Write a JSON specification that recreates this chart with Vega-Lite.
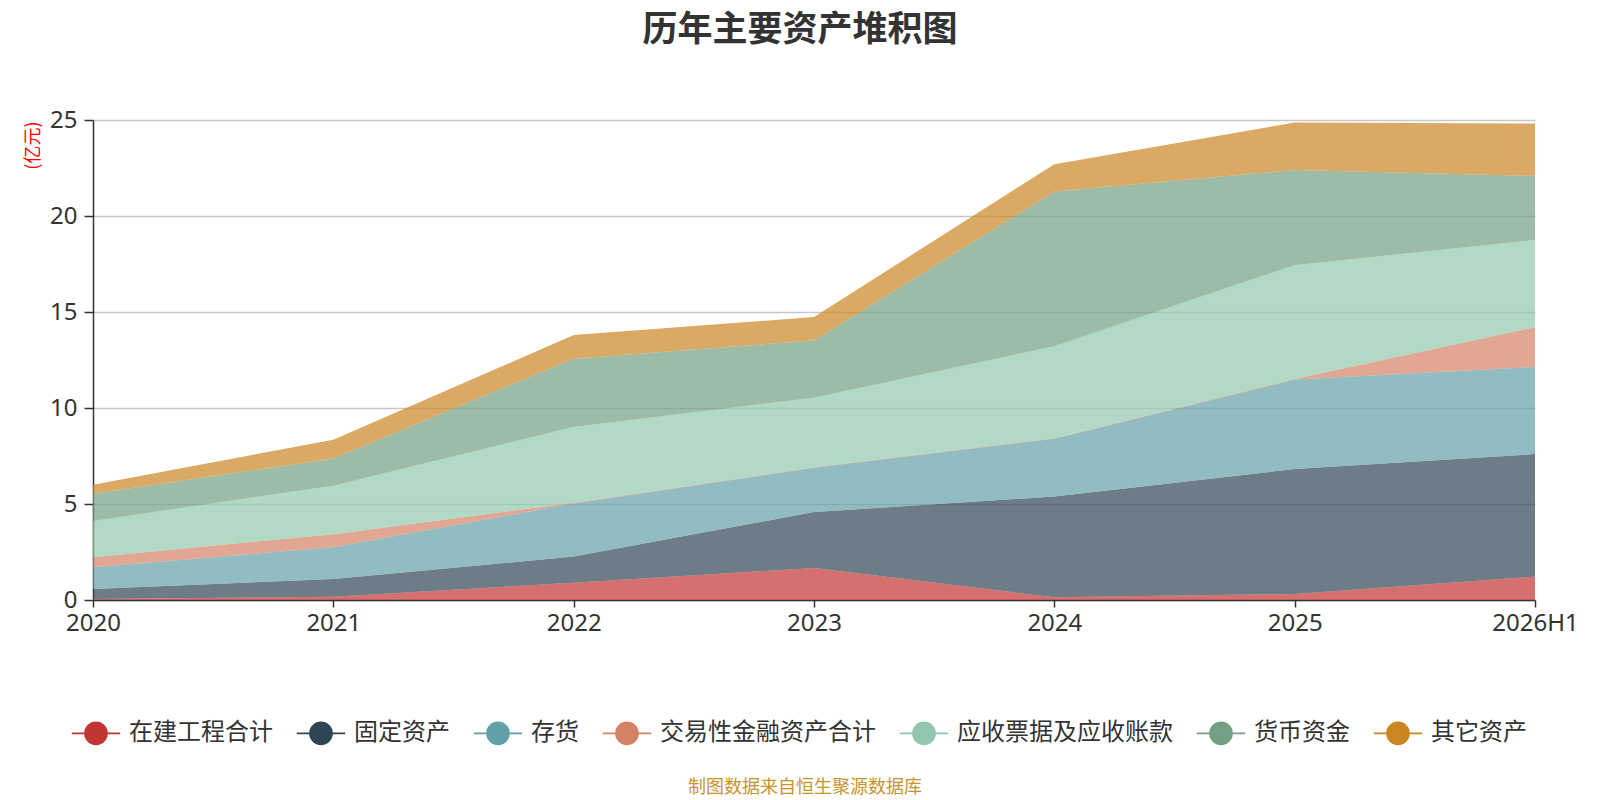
{
  "$schema": "https://vega.github.io/schema/vega-lite/v6.json",
  "autosize": "none",
  "width": 1442,
  "height": 480,
  "padding": {"left": 93, "top": 120, "right": 65, "bottom": 200},
  "background": "white",
  "title": {
    "text": "历年主要资产堆积图",
    "font": "Noto Sans CJK SC",
    "fontSize": 35,
    "fontWeight": "bold",
    "color": "#333333",
    "anchor": "middle",
    "dx": -14,
    "offset": 60
  },
  "data": {
    "values": [
      {"year": "2020", "item": "在建工程合计", "value": 0.05},
      {"year": "2021", "item": "在建工程合计", "value": 0.17},
      {"year": "2022", "item": "在建工程合计", "value": 0.90},
      {"year": "2023", "item": "在建工程合计", "value": 1.67},
      {"year": "2024", "item": "在建工程合计", "value": 0.14},
      {"year": "2025", "item": "在建工程合计", "value": 0.31},
      {"year": "2026H1", "item": "在建工程合计", "value": 1.22},
      {"year": "2020", "item": "固定资产", "value": 0.52},
      {"year": "2021", "item": "固定资产", "value": 0.93},
      {"year": "2022", "item": "固定资产", "value": 1.36},
      {"year": "2023", "item": "固定资产", "value": 2.91},
      {"year": "2024", "item": "固定资产", "value": 5.25},
      {"year": "2025", "item": "固定资产", "value": 6.51},
      {"year": "2026H1", "item": "固定资产", "value": 6.38},
      {"year": "2020", "item": "存货", "value": 1.13},
      {"year": "2021", "item": "存货", "value": 1.65},
      {"year": "2022", "item": "存货", "value": 2.77},
      {"year": "2023", "item": "存货", "value": 2.31},
      {"year": "2024", "item": "存货", "value": 3.01},
      {"year": "2025", "item": "存货", "value": 4.66},
      {"year": "2026H1", "item": "存货", "value": 4.54},
      {"year": "2020", "item": "交易性金融资产合计", "value": 0.53},
      {"year": "2021", "item": "交易性金融资产合计", "value": 0.68},
      {"year": "2022", "item": "交易性金融资产合计", "value": 0.04},
      {"year": "2023", "item": "交易性金融资产合计", "value": 0.02},
      {"year": "2024", "item": "交易性金融资产合计", "value": 0.03},
      {"year": "2025", "item": "交易性金融资产合计", "value": 0.03},
      {"year": "2026H1", "item": "交易性金融资产合计", "value": 2.07},
      {"year": "2020", "item": "应收票据及应收账款", "value": 1.89},
      {"year": "2021", "item": "应收票据及应收账款", "value": 2.52},
      {"year": "2022", "item": "应收票据及应收账款", "value": 3.94},
      {"year": "2023", "item": "应收票据及应收账款", "value": 3.63},
      {"year": "2024", "item": "应收票据及应收账款", "value": 4.79},
      {"year": "2025", "item": "应收票据及应收账款", "value": 5.93},
      {"year": "2026H1", "item": "应收票据及应收账款", "value": 4.54},
      {"year": "2020", "item": "货币资金", "value": 1.41},
      {"year": "2021", "item": "货币资金", "value": 1.42},
      {"year": "2022", "item": "货币资金", "value": 3.56},
      {"year": "2023", "item": "货币资金", "value": 2.98},
      {"year": "2024", "item": "货币资金", "value": 8.05},
      {"year": "2025", "item": "货币资金", "value": 4.96},
      {"year": "2026H1", "item": "货币资金", "value": 3.34},
      {"year": "2020", "item": "其它资产", "value": 0.47},
      {"year": "2021", "item": "其它资产", "value": 0.98},
      {"year": "2022", "item": "其它资产", "value": 1.23},
      {"year": "2023", "item": "其它资产", "value": 1.22},
      {"year": "2024", "item": "其它资产", "value": 1.43},
      {"year": "2025", "item": "其它资产", "value": 2.47},
      {"year": "2026H1", "item": "其它资产", "value": 2.73}
    ]
  },
  "transform": [
    {"calculate": "indexof(['在建工程合计','固定资产','存货','交易性金融资产合计','应收票据及应收账款','货币资金','其它资产'], datum.item)", "as": "rank"}
  ],
  "mark": {"type": "area", "opacity": 0.7, "interpolate": "linear"},
  "encoding": {
    "x": {
      "field": "year",
      "type": "ordinal",
      "scale": {"type": "point", "padding": 0},
      "axis": {
        "title": null,
        "labelAngle": 0,
        "labelFontSize": 24,
        "labelColor": "#333333",
        "labelFont": "Noto Sans",
        "labelPadding": 4,
        "labelFlush": false,
        "labelOverlap": false,
        "domainColor": "#333333",
        "domainWidth": 1.5,
        "tickColor": "#333333",
        "tickWidth": 1.5,
        "tickSize": 7,
        "grid": false
      }
    },
    "y": {
      "field": "value",
      "type": "quantitative",
      "aggregate": "sum",
      "stack": "zero",
      "scale": {"domain": [0, 25], "nice": false},
      "axis": {
        "title": "(亿元)",
        "titleColor": "#ff0000",
        "titleFontSize": 18,
        "titleFontWeight": "normal",
        "titleFont": "Noto Sans CJK SC",
        "titleAngle": -90,
        "titleX": -60,
        "titleY": 1,
        "titleAlign": "right",
        "titleBaseline": "middle",
        "values": [0, 5, 10, 15, 20, 25],
        "labelFontSize": 24,
        "labelColor": "#333333",
        "labelFont": "Noto Sans",
        "labelPadding": 7,
        "domainColor": "#333333",
        "domainWidth": 1.5,
        "tickColor": "#333333",
        "tickWidth": 1.5,
        "tickSize": 9,
        "gridColor": "#c8c8c8",
        "gridWidth": 1.3
      }
    },
    "color": {
      "field": "item",
      "type": "nominal",
      "sort": ["在建工程合计", "固定资产", "存货", "交易性金融资产合计", "应收票据及应收账款", "货币资金", "其它资产"],
      "scale": {
        "domain": ["在建工程合计", "固定资产", "存货", "交易性金融资产合计", "应收票据及应收账款", "货币资金", "其它资产"],
        "range": ["#c23531", "#2f4554", "#61a0a8", "#d48265", "#91c7ae", "#749f83", "#ca8622"]
      },
      "legend": {
        "orient": "none",
        "legendX": -9,
        "legendY": 601,
        "direction": "horizontal",
        "columns": 7,
        "title": "制图数据来自恒生聚源数据库",
        "titleOrient": "bottom",
        "titleAnchor": "middle",
        "titleColor": "#c8952a",
        "titleFontSize": 18,
        "titleFontWeight": "normal",
        "titleFont": "Noto Sans CJK SC",
        "titlePadding": 31,
        "titleLimit": 0,
        "labelLimit": 0,
        "labelFont": "Noto Sans CJK SC",
        "labelFontSize": 24,
        "labelColor": "#333333",
        "labelOffset": 21,
        "columnPadding": 20,
        "symbolType": "M-2.2,0H-1M1,0H2.2M1,0A1,1,0,1,1,-1,0A1,1,0,1,1,1,0Z",
        "symbolSize": 484,
        "symbolStrokeWidth": 1.7,
        "symbolOpacity": 1,
        "encode": {
          "symbols": {
            "update": {
              "stroke": {"scale": "color", "field": "value"},
              "opacity": {"value": 1}
            }
          }
        }
      }
    },
    "order": {"field": "rank", "type": "quantitative", "sort": "ascending"}
  },
  "config": {
    "view": {"stroke": null}
  }
}
